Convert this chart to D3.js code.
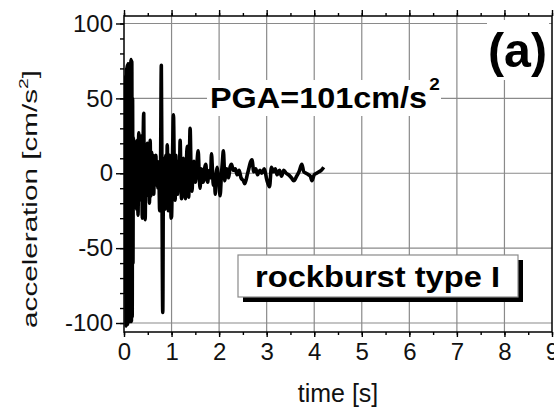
<!DOCTYPE html>
<html>
<head>
<meta charset="utf-8">
<script src="https://cdn.jsdelivr.net/npm/d3@7"></script>
<style>
  body { margin: 0; background: #fff; }
  svg { display: block; font-family: "Liberation Sans", Arial, sans-serif; }
</style>
</head>
<body>
<svg width="554" height="412"></svg>
<script>
/********** data **********/
var time = [0.000, 0.006, 0.012, 0.020, 0.028, 0.036, 0.044, 0.052, 0.060, 0.068,
            0.076, 0.084, 0.092, 0.100, 0.108, 0.116, 0.124, 0.132, 0.140, 0.148,
            0.156, 0.164, 0.172, 0.180, 0.188, 0.196, 0.204, 0.212, 0.220, 0.228,
            0.236, 0.250, 0.265, 0.280, 0.295, 0.310, 0.325, 0.340, 0.355, 0.370,
            0.385, 0.400, 0.415, 0.430, 0.445, 0.460, 0.475, 0.490, 0.505, 0.520,
            0.535, 0.550, 0.565, 0.580, 0.595, 0.610, 0.625, 0.640, 0.655, 0.670,
            0.685, 0.700, 0.715, 0.730, 0.750, 0.770, 0.785, 0.800, 0.815, 0.830,
            0.845, 0.860, 0.880, 0.895, 0.910, 0.930, 0.945, 0.960, 0.975, 0.990,
            1.000, 1.020, 1.040, 1.060, 1.075, 1.090, 1.105, 1.125, 1.145, 1.165,
            1.180, 1.195, 1.210, 1.230, 1.250, 1.270, 1.290, 1.310, 1.330, 1.345,
            1.360, 1.375, 1.390, 1.410, 1.430, 1.450, 1.470, 1.485, 1.500, 1.530,
            1.560, 1.580, 1.600, 1.620, 1.640, 1.660, 1.680, 1.700, 1.720, 1.740,
            1.760, 1.780, 1.800, 1.820, 1.840, 1.860, 1.880, 1.900, 1.920, 1.940,
            1.960, 1.980, 2.000, 2.020, 2.050, 2.070, 2.090, 2.110, 2.120, 2.140,
            2.160, 2.180, 2.200, 2.230, 2.260, 2.300, 2.340, 2.380, 2.420, 2.460,
            2.510, 2.540, 2.600, 2.690, 2.730, 2.770, 2.810, 2.860, 2.900, 2.950,
            3.000, 3.060, 3.100, 3.140, 3.180, 3.220, 3.270, 3.310, 3.360, 3.410,
            3.460, 3.520, 3.570, 3.630, 3.680, 3.740, 3.780, 3.830, 3.880, 3.920,
            3.950, 4.000, 4.050, 4.100, 4.150, 4.200];
var accel = [0, 48, -60, 50, -80, 65, -102, 70, -100, 72,
             -101, 73, -98, 68, -96, 72, -99, 74, -97, 76,
             -99, 75, -96, 50, -60, 24, -23, 22, -20, 20,
             -22, 18, -24, 22, -28, 27, -12, 20, -18, 25,
             -30, 15, 40, -28, -31, 10, -15, 20, -12, 18,
             -20, 22, -15, 14, -10, 12, -14, 10, -8, 12,
             -6, 8, -10, 5, -25, 10, 72, -20, -93, 10,
             5, -24, 12, -10, 19, -25, -20, 12, 8, -30,
             -29, 10, 39, -5, -18, 12, -6, -14, 8, -5,
             22, 2, -17, 6, 10, -8, -17, 5, 18, -2,
             -16, 8, 30, 2, -12, 4, 8, -3, -6, 5,
             15, 0, -10, 3, 2, -6, -4, 4, 6, -2,
             -6, 1, 2, -3, 13, 2, -8, -2, -14, 0,
             4, -2, -6, -15, 0, 8, 15, 2, -5, 0,
             3, -1, -3, 4, 6, 2, 3, -1, 2, -3,
             -5, -7, 0, 9, 1, 3, -1, 2, 0, 3,
             -4, -9, 4, 1, 3, -1, 2, -2, 2, 0,
             -1, -3, -5, -2, 1, 6, 1, 0, -1, -2,
             -5, -1, 0, 1, 2, 4];

var xTicks = [0, 1, 2, 3, 4, 5, 6, 7, 8, 9];
var yTicks = [-100, -50, 0, 50, 100];
var xMinor = d3.range(0, 9.01, 0.5);
var yMinor = d3.range(-100, 101, 10);

/********** setup **********/
var svg = d3.select("svg"),
    plotLeft = 124, plotRight = 552, plotTop = 16, plotBottom = 332;

var x = d3.scaleLinear().domain([0, 9]).range([plotLeft, plotRight]);
var y = d3.scaleLinear().domain([-106, 105]).range([plotBottom, plotTop]);

// grid
svg.append("g").selectAll("line")
    .data(xTicks.slice(1, -1))
    .enter().append("line")
    .attr("x1", x).attr("x2", x)
    .attr("y1", plotTop).attr("y2", plotBottom)
    .attr("stroke", "#8a8a8a").attr("stroke-width", 1.2);

svg.append("g").selectAll("line")
    .data(yTicks)
    .enter().append("line")
    .attr("x1", plotLeft).attr("x2", plotRight)
    .attr("y1", y).attr("y2", y)
    .attr("stroke", "#8a8a8a").attr("stroke-width", 1.2);

// signal
svg.append("clipPath").attr("id", "plot")
    .append("rect")
    .attr("x", plotLeft).attr("y", plotTop)
    .attr("width", plotRight - plotLeft).attr("height", plotBottom - plotTop);

var line = d3.line()
    .curve(d3.curveMonotoneX)
    .x(function(d, i) { return x(time[i]); })
    .y(function(d) { return y(d); });

svg.append("path")
    .attr("clip-path", "url(#plot)")
    .attr("d", line(accel))
    .attr("fill", "none")
    .attr("stroke", "#000")
    .attr("stroke-width", 3.6)
    .attr("stroke-linejoin", "round");

// stretch a text group horizontally so it spans w pixels
function stretch(g, tx, ty, w, rot) {
    var bw = g.node().getBBox().width;
    g.attr("transform", "translate(" + tx + "," + ty + ")" + (rot ? " rotate(" + rot + ")" : "") +
        " scale(" + (w / bw) + ",1)");
}

/********** annotations **********/
svg.append("rect")
    .attr("x", 207).attr("y", 80).attr("width", 234).attr("height", 36)
    .attr("fill", "#fff");
var pga = svg.append("g");
var pgaText = pga.append("text")
    .attr("font-weight", "bold").attr("font-size", 29).attr("fill", "#000");
pgaText.append("tspan").text("PGA=101cm/s");
pgaText.append("tspan").attr("font-size", 17).attr("dy", -18).attr("dx", 2).text("2");
stretch(pga, 210, 108, 230);

svg.append("rect")
    .attr("x", 487).attr("y", 20).attr("width", 62).attr("height", 60)
    .attr("fill", "#fff");
svg.append("text")
    .attr("x", 488).attr("y", 67)
    .attr("font-weight", "bold").attr("font-size", 48)
    .attr("textLength", 59).attr("lengthAdjust", "spacingAndGlyphs")
    .text("(a)");

// rockburst box with shadow
svg.append("rect")
    .attr("x", 243).attr("y", 260).attr("width", 280).attr("height", 42)
    .attr("fill", "#000");
svg.append("rect")
    .attr("x", 238).attr("y", 255).attr("width", 280).attr("height", 42)
    .attr("fill", "#fff").attr("stroke", "#8a8a8a").attr("stroke-width", 1.2);
svg.append("text")
    .attr("x", 255).attr("y", 287)
    .attr("font-weight", "bold").attr("font-size", 30)
    .attr("textLength", 245).attr("lengthAdjust", "spacingAndGlyphs")
    .text("rockburst type I");

/********** axes **********/
function clean(g) {
    g.select(".domain").remove();
    g.selectAll("line").attr("stroke", "#000").attr("stroke-width", 1.4);
    g.selectAll("text").attr("font-family", "Liberation Sans, Arial, sans-serif")
        .attr("font-size", 24).attr("fill", "#111");
}

function plain(d) { return String(d); }

svg.append("g")
    .attr("transform", "translate(0," + plotBottom + ")")
    .call(d3.axisBottom(x).tickValues(xMinor).tickSize(3).tickFormat(""))
    .call(clean);
svg.append("g")
    .attr("transform", "translate(0," + plotBottom + ")")
    .call(d3.axisBottom(x).tickValues(xTicks).tickSize(5).tickPadding(6).tickFormat(plain))
    .call(clean);

svg.append("g")
    .attr("transform", "translate(0," + plotTop + ")")
    .call(d3.axisTop(x).tickValues(xMinor).tickSize(3).tickFormat(""))
    .call(clean);
svg.append("g")
    .attr("transform", "translate(0," + plotTop + ")")
    .call(d3.axisTop(x).tickValues(xTicks).tickSize(6).tickFormat(""))
    .call(clean);

svg.append("g")
    .attr("transform", "translate(" + plotLeft + ",0)")
    .call(d3.axisLeft(y).tickValues(yMinor).tickSize(4).tickFormat(""))
    .call(clean);
svg.append("g")
    .attr("transform", "translate(" + plotLeft + ",0)")
    .call(d3.axisLeft(y).tickValues(yTicks).tickSize(8).tickPadding(3).tickFormat(plain))
    .call(clean);

// frame
svg.append("rect")
    .attr("x", plotLeft).attr("y", plotTop)
    .attr("width", plotRight - plotLeft).attr("height", plotBottom - plotTop)
    .attr("fill", "none").attr("stroke", "#000").attr("stroke-width", 1.5);

// axis titles
svg.append("text")
    .attr("x", 338).attr("y", 402)
    .attr("text-anchor", "middle").attr("font-size", 25).attr("fill", "#111")
    .text("time [s]");

var yl = svg.append("g");
var ylText = yl.append("text")
    .attr("text-anchor", "middle").attr("font-size", 20).attr("fill", "#111");
ylText.append("tspan").text("acceleration [cm/s");
ylText.append("tspan").attr("font-size", 13).attr("dy", -9).text("2");
ylText.append("tspan").attr("dy", 9).text("]");
stretch(yl, 37, 199, 258, -90);
</script>
</body>
</html>
